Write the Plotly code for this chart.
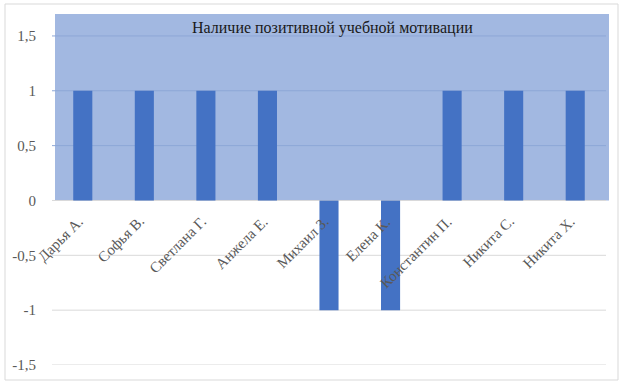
import plotly.graph_objects as go

categories = ["Дарья А.", "Софья В.", "Светлана Г.", "Анжела Е.", "Михаил З.",
              "Елена К.", "Константин П.", "Никита С.", "Никита Х."]
values = [1, 1, 1, 1, -1, -1, 1, 1, 1]
tick_vals = [-1.5, -1, -0.5, 0, 0.5, 1, 1.5]
tick_text = ["-1,5", "-1", "-0,5", "0", "0,5", "1", "1,5"]
title_text = "Наличие позитивной учебной мотивации"

W, H = 623, 386
L, R, T, B = 52, 606, 14, 365
YMIN, YMAX = -1.5, 1.7

def px_x(p):
    return (p - L) / (R - L)

def px_y(q):
    return (B - q) / (B - T)

FONT = "Liberation Serif"

fig = go.Figure()
fig.add_trace(go.Bar(
    x=categories, y=values, width=0.31,
    marker=dict(color="#4472C4", line=dict(width=0)),
    hoverinfo="x+y",
))

shapes = []
# blue background above zero
shapes.append(dict(type="rect", xref="paper", yref="y",
                   x0=px_x(55), x1=px_x(609), y0=0, y1=YMAX,
                   fillcolor="#A2B8E1", line=dict(width=0), layer="between"))
# gridlines: gray on white, darker blue on the blue area
for v in tick_vals:
    shapes.append(dict(type="line", xref="paper", yref="y",
                       x0=0, x1=1, y0=v, y1=v,
                       line=dict(color="#8DA7D6" if v > 0 else "#D9D9D9", width=1),
                       layer="between"))
# outer border
shapes.append(dict(type="rect", xref="paper", yref="paper",
                   x0=px_x(5), x1=px_x(618), y0=px_y(380), y1=px_y(4),
                   line=dict(color="#D9D9D9", width=1), fillcolor="rgba(0,0,0,0)",
                   layer="below"))

annotations = [dict(text=title_text, xref="paper", yref="paper",
                    x=px_x(332), y=px_y(28), xanchor="center", yanchor="middle",
                    showarrow=False, font=dict(family=FONT, size=16, color="#1a1a1a"))]
for c in categories:
    annotations.append(dict(text=c, xref="x", yref="y", x=c, y=0,
                            xanchor="right", yanchor="top", textangle=-45,
                            xshift=6, yshift=-10, showarrow=False,
                            font=dict(family=FONT, size=15, color="#595959")))

fig.update_layout(
    width=W, height=H,
    margin=dict(l=L, r=W - R, t=T, b=H - B, pad=0),
    paper_bgcolor="white", plot_bgcolor="white",
    showlegend=False,
    font=dict(family=FONT, size=14, color="#595959"),
    shapes=shapes,
    annotations=annotations,
    xaxis=dict(
        range=[-0.5, len(categories) - 0.5],
        showgrid=False, showline=False, zeroline=False,
        showticklabels=False,
    ),
    yaxis=dict(
        range=[YMIN, YMAX], tickvals=tick_vals, ticktext=tick_text,
        showgrid=False, zeroline=False, showline=False,
        ticks="outside", ticklen=12, tickcolor="rgba(0,0,0,0)",
        tickfont=dict(family=FONT, size=15, color="#595959"),
    ),
)

fig.write_html("out.html", config={"displayModeBar": False},
               post_script="document.body.style.margin='0';")
